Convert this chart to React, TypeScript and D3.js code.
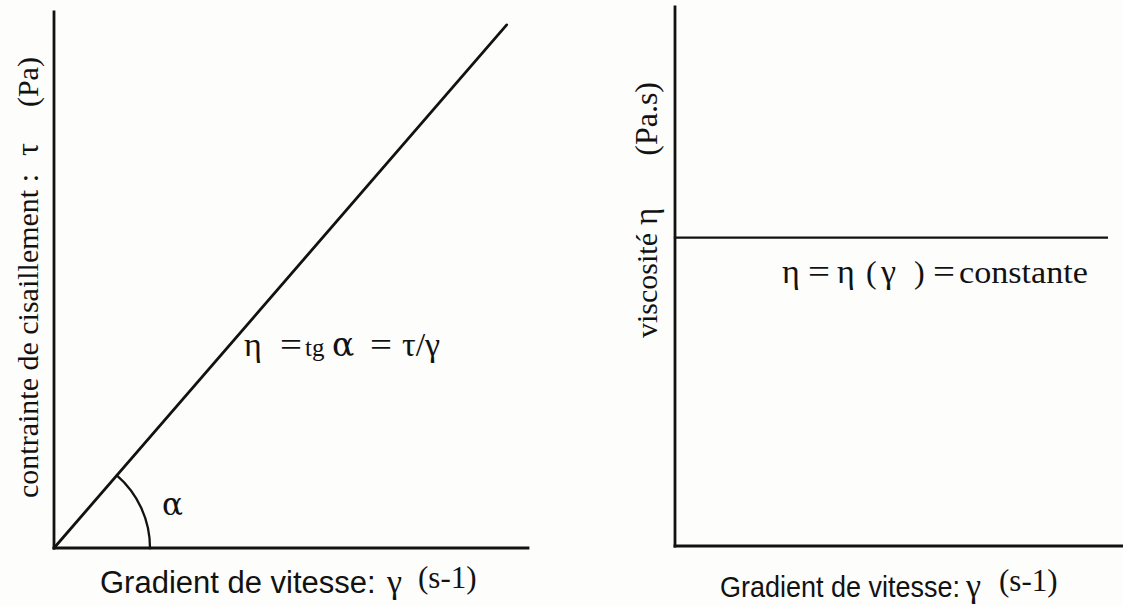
import React from "react";
import * as d3 from "d3";

// Newtonian fluid: shear stress grows linearly with shear rate,
// viscosity stays constant whatever the shear rate.
const shearRate = [0, 9.55];
const shearStress = [0, 9.76];
const viscosityRate = [0, 9.64];
const viscosityValue = [5.72, 5.72];

const W = 1123;
const H = 606;
const INK = "#121212";
const SERIF = "'Liberation Serif', 'Times New Roman', serif";
const GREEK = "'DejaVu Serif', 'Liberation Serif', serif";
const SANS = "'Liberation Sans', Arial, sans-serif";

export default function App() {
  // left panel: stress vs shear rate
  const xL = d3.scaleLinear().domain([0, 10]).range([54, 528]);
  const yL = d3.scaleLinear().domain([0, 10]).range([548, 12]);
  // right panel: viscosity vs shear rate
  const xR = d3.scaleLinear().domain([0, 10]).range([675, 1123]);
  const yR = d3.scaleLinear().domain([0, 10]).range([546, 7]);

  const stressLine = d3
    .line<number>()
    .x((_, i) => xL(shearRate[i]))
    .y((d) => yL(d))(shearStress);

  const viscLine = d3
    .line<number>()
    .x((_, i) => xR(viscosityRate[i]))
    .y((d) => yR(d))(viscosityValue);

  // angle arc at the origin, between the x axis and the stress line
  const ox = xL(0);
  const oy = yL(0);
  const slope = Math.atan2(yL(0) - yL(shearStress[1]), xL(shearRate[1]) - xL(0));
  const r = 96;
  const arcPath = `M${ox + r},${oy} A${r},${r} 0 0 0 ${ox + r * Math.cos(slope)},${oy - r * Math.sin(slope)}`;

  const eq = (x: number) => (
    <tspan x={x} fontSize={34} textLength={22} lengthAdjust="spacingAndGlyphs">=</tspan>
  );

  return (
    <svg
      width={W}
      height={H}
      style={{ position: "absolute", left: 0, top: 0, background: "#fdfdfc" }}
    >
      {/* left panel axes */}
      <g stroke={INK} strokeWidth={2.8} fill="none" strokeLinecap="square">
        <line x1={xL(0)} y1={yL(10)} x2={xL(0)} y2={yL(0)} />
        <line x1={xL(0)} y1={yL(0)} x2={xL(10)} y2={yL(0)} />
        <path d={stressLine || ""} strokeLinecap="round" />
        <path d={arcPath} strokeWidth={2.3} />
      </g>

      {/* right panel axes */}
      <g stroke={INK} strokeWidth={2.8} fill="none" strokeLinecap="square">
        <line x1={xR(0)} y1={yR(10)} x2={xR(0)} y2={yR(0)} />
        <line x1={xR(0)} y1={yR(0)} x2={xR(10)} y2={yR(0)} />
        <path d={viscLine || ""} strokeWidth={2.3} />
      </g>

      {/* left y label */}
      <text
        transform="translate(38,498) rotate(-90)"
        fontFamily={SERIF}
        fontSize={30}
        fill={INK}
      >
        contrainte de cisaillement :<tspan dx={18} fontSize={32}>τ</tspan>
        <tspan dx={36}>(Pa)</tspan>
      </text>

      {/* right y label */}
      <text
        transform="translate(657,338) rotate(-90)"
        fontFamily={SERIF}
        fontSize={30}
        fill={INK}
      >
        viscosité<tspan dx={8} fontSize={33}>η</tspan>
        <tspan dx={52} fontSize={32}>(Pa.s)</tspan>
      </text>

      {/* alpha */}
      <text x={162} y={515} fontFamily={GREEK} fontSize={31} fill={INK}>
        α
      </text>

      {/* left formula */}
      <text y={356} fontFamily={SERIF} fill={INK}>
        <tspan x={244} fontSize={34}>η</tspan>
        {eq(280)}
        <tspan x={305} fontSize={25}>tg</tspan>
        <tspan x={332} fontSize={33} fontFamily={GREEK}>α</tspan>
        {eq(370)}
        <tspan x={402} fontSize={34}>τ/γ</tspan>
      </text>

      {/* right formula */}
      <text y={283} fontFamily={SERIF} fill={INK}>
        <tspan x={782} fontSize={34}>η</tspan>
        {eq(808)}
        <tspan x={837} fontSize={34}>η</tspan>
        <tspan x={866} fontSize={32}>(</tspan>
        <tspan x={881} fontSize={34}>γ</tspan>
        <tspan x={914} fontSize={32}>)</tspan>
        {eq(933)}
        <tspan x={959} fontSize={32} textLength={129} lengthAdjust="spacingAndGlyphs">constante</tspan>
      </text>

      {/* left x label */}
      <text x={100} y={593} fontFamily={SANS} fontSize={31} fill={INK}>
        Gradient de vitesse:
      </text>
      <text x={387} y={593} fontFamily={SERIF} fontSize={34} fill={INK}>
        γ
      </text>
      <text x={418} y={588} fontFamily={SERIF} fontSize={31} fill={INK}>
        (s-1)
      </text>

      {/* right x label, slightly condensed */}
      <text
        transform="translate(720,597) scale(1,1.12)"
        fontFamily={SANS}
        fontSize={27}
        fill={INK}
      >
        Gradient de vitesse:
      </text>
      <text x={966} y={597} fontFamily={SERIF} fontSize={34} fill={INK}>
        γ
      </text>
      <text x={999} y={591} fontFamily={SERIF} fontSize={31} fill={INK}>
        (s-1)
      </text>
    </svg>
  );
}
